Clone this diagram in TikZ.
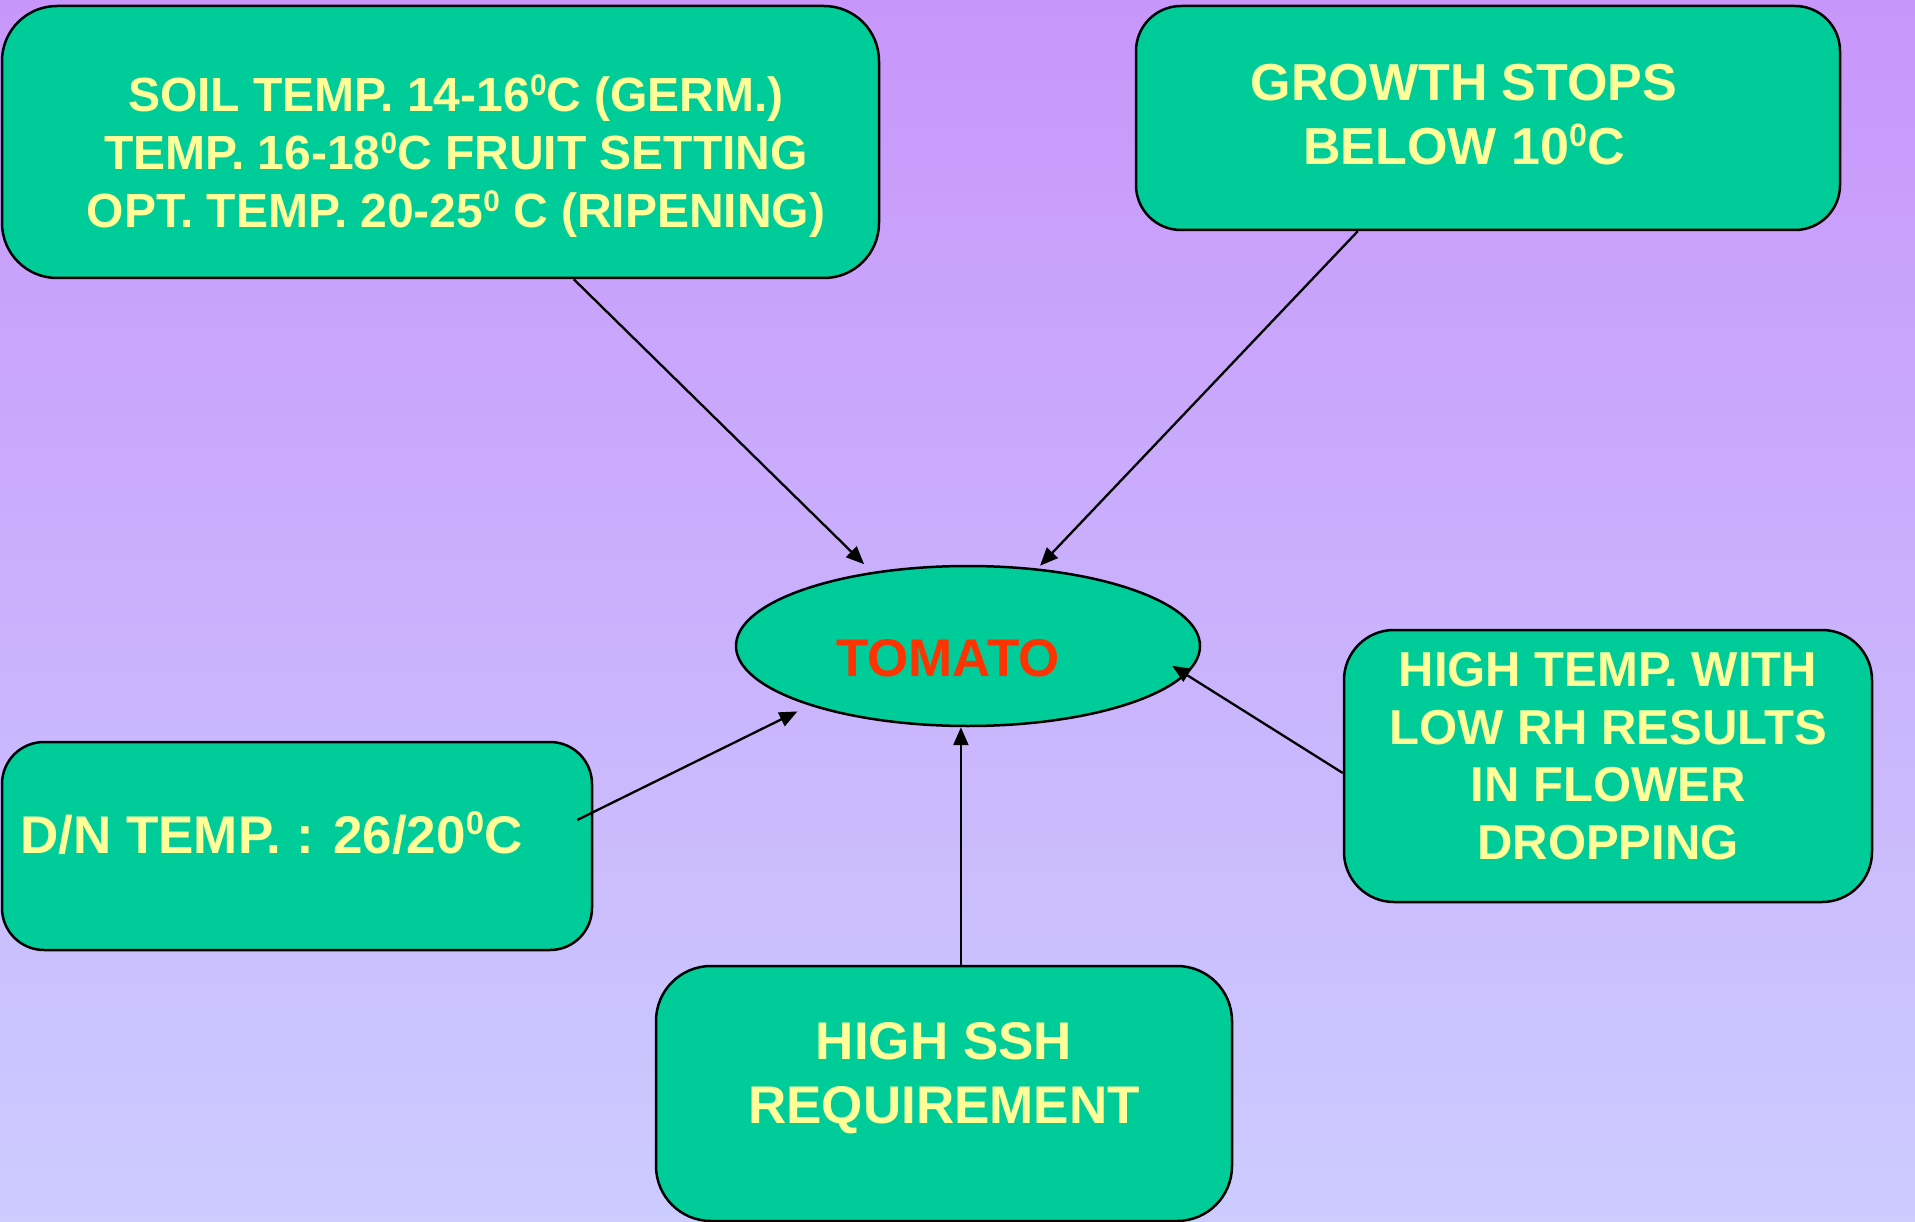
\documentclass[tikz,border=0pt]{standalone}
\usepackage{fontspec}
\setmainfont{Liberation Sans}
\usetikzlibrary{arrows.meta,shapes.geometric}
\definecolor{bgtop}{RGB}{200,150,250}
\definecolor{bgbot}{RGB}{204,204,255}
\definecolor{boxfill}{RGB}{0,204,153}
\definecolor{boxtext}{RGB}{255,255,153}
\definecolor{tomred}{RGB}{255,51,0}
\newcommand{\supzero}{\raisebox{0.35em}{\scalebox{0.62}{0}}}
\begin{document}
\begin{tikzpicture}[x=1pt,y=-1pt,
  box/.style={draw=black,fill=boxfill,line width=2.5pt,rectangle,inner sep=0pt},
  lbl/.style={text=boxtext,align=center,inner sep=0pt},
  arr/.style={draw=black,line width=2.3pt,-{Triangle[length=18pt,width=15pt]}}]
\useasboundingbox (0,0) rectangle (1915,1222);
\shade[top color=bgtop,bottom color=bgbot] (0,0) rectangle (1915,1222);

\node[box,minimum width=877pt,minimum height=272pt,rounded corners=55pt] (box1) at (440.5,142) {};
\node[box,minimum width=704pt,minimum height=224pt,rounded corners=45pt] (box2) at (1488,118) {};
\node[box,minimum width=528pt,minimum height=272pt,rounded corners=50pt] (rb) at (1608,766) {};
\node[box,minimum width=590pt,minimum height=208pt,rounded corners=42pt] (dn) at (297,846) {};
\node[box,minimum width=576pt,minimum height=255pt,rounded corners=55pt] (bot) at (944,1093.5) {};
\node[box,ellipse,minimum width=464pt,minimum height=160pt] (tom) at (968,646) {};

\node[lbl,font=\fontsize{48}{58}\selectfont\bfseries] (t1) at (456,156)
  {SOIL TEMP. 14-16\supzero C (GERM.)\\TEMP. 16-18\supzero C FRUIT SETTING\\OPT. TEMP. 20-25\supzero\ C (RIPENING)};
\node[lbl,font=\fontsize{52}{64}\selectfont\bfseries] (t2) at (1464,114.5)
  {GROWTH STOPS\\BELOW 10\supzero C};
\node[lbl,font=\fontsize{49}{57.5}\selectfont\bfseries] (t3) at (1608,756)
  {HIGH TEMP. WITH\\LOW RH RESULTS\\IN FLOWER\\DROPPING};
\node[lbl,font=\fontsize{53}{64}\selectfont\bfseries,anchor=base west] (t4) at (20,853)
  {D/N TEMP. : 26/20\supzero C};
\node[lbl,font=\fontsize{53}{64}\selectfont\bfseries] (t5) at (944,1078)
  {HIGH SSH\\REQUIREMENT};
\node[text=tomred,inner sep=0pt,font=\fontsize{53}{64}\selectfont\bfseries,anchor=base] (t6) at (948,676) {TOMATO};

\draw[arr] ([xshift=573pt]box1.south west) -- ([yshift=9pt]tom.145);
\draw[arr] ([xshift=223pt]box2.south west) -- ([yshift=3pt]tom.47.6);
\draw[arr] ([xshift=-16pt,yshift=26pt]dn.east) -- ([yshift=-10pt]tom.198);
\draw[arr] (bot.north -| tom.265) -- (tom.265);
\draw[arr] ([yshift=-7pt]rb.west) -- ([xshift=-22pt]tom.-5);
\end{tikzpicture}
\end{document}
